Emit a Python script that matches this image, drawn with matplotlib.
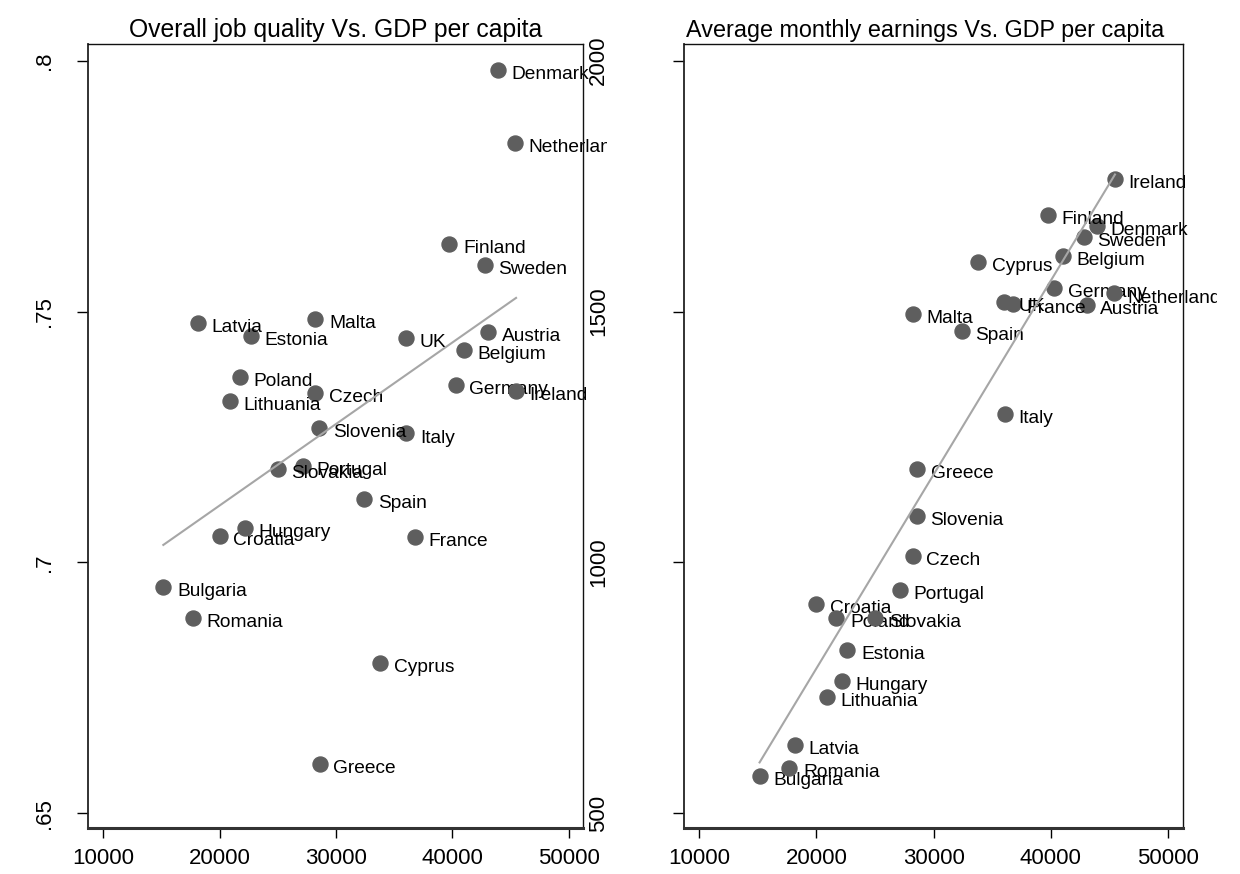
import matplotlib
matplotlib.use("Agg")
import matplotlib.pyplot as plt
import matplotlib.transforms as mtransforms
import numpy as np

plt.rcParams['font.family'] = ['Liberation Sans', 'DejaVu Sans']

countries = ["Austria", "Belgium", "Bulgaria", "Croatia", "Cyprus", "Czech",
             "Denmark", "Estonia", "Finland", "France", "Germany", "Greece",
             "Hungary", "Ireland", "Italy", "Latvia", "Lithuania", "Malta",
             "Netherlands", "Poland", "Portugal", "Romania", "Slovakia",
             "Slovenia", "Spain", "Sweden", "UK"]
gdp = [43050, 41000, 15150, 20000, 33800, 28200,
       43900, 22650, 39730, 36750, 40270, 28600,
       22170, 45470, 36050, 18150, 20900, 28220,
       45400, 21700, 27150, 17700, 25000,
       28550, 32400, 42800, 36040]
job_quality = [.7460, .7424, .6952, .7053, .6799, .7338,
               .7981, .7452, .7634, .7050, .7353, .6598,
               .7068, .7342, .7257, .7477, .7321, .7485,
               .7836, .7370, .7192, .6889, .7187,
               .7268, .7126, .7593, .7448]
earnings = [1513, 1611, 574, 918, 1599, 1013,
            1670, 825, 1692, 1516, 1546, 1186,
            764, 1764, 1295, 635, 732, 1496,
            1536, 889, 945, 591, 889,
            1092, 1461, 1649, 1520]

x_ticks = [10000, 20000, 30000, 40000, 50000]
jq_ticks = [.65, .7, .75, .8]
jq_ticklabels = [".65", ".7", ".75", ".8"]
earn_ticks = [500, 1000, 1500, 2000]
earn_ticklabels = ["500", "1000", "1500", "2000"]

marker_color = '#5e5e5e'
line_color = '#a6a6a6'

fig = plt.figure(figsize=(12.4, 8.74), dpi=100)
ax1 = fig.add_axes([0.0712, 0.0523, 0.3992, 0.8970])
ax2 = fig.add_axes([0.5516, 0.0523, 0.4022, 0.8970])


def draw_panel(ax, yvals, title, title_size, title_x, yticks, yticklabels, ylim, ypad, clip_x):
    x = np.array(gdp, dtype=float)
    y = np.array(yvals, dtype=float)
    label_tr = mtransforms.offset_copy(ax.transData, fig=fig, x=9.8, y=-6.5, units='points')
    # labels are cut at the edge of each sub-graph, not at the plot box
    pos = ax.get_position()
    clip = mtransforms.TransformedBbox(
        mtransforms.Bbox([[pos.x0, pos.y0], [clip_x, pos.y1]]), fig.transFigure)
    for i, name in enumerate(countries):
        ax.plot(x[i], y[i], 'o', ms=10.8, color=marker_color, mec=marker_color,
                zorder=2 + i * 0.01)
        t = ax.text(x[i], y[i], name, transform=label_tr, fontsize=13.8, ha='left',
                    va='baseline', zorder=2 + i * 0.01 + 0.005)
        t.set_clip_box(clip)
        t.set_clip_on(True)
    # linear fit
    b, a = np.polyfit(x, y, 1)
    xs = np.array([x.min(), x.max()])
    ax.plot(xs, a + b * xs, color=line_color, lw=1.5, zorder=5)

    ax.set_xlim(8700, 51250)
    ax.set_ylim(*ylim)
    ax.set_xticks(x_ticks)
    ax.set_xticklabels([str(v) for v in x_ticks])
    ax.set_yticks(yticks)
    ax.set_yticklabels(yticklabels, rotation=90, va='center')
    ax.tick_params(axis='x', direction='out', length=7, width=1, pad=7, labelsize=16)
    ax.tick_params(axis='y', direction='out', length=8, width=1, pad=ypad, labelsize=16)
    ax.set_title(title, fontsize=title_size, pad=5, x=title_x)
    for side in ['top', 'right']:
        ax.spines[side].set_linewidth(1.0)
        ax.spines[side].set_color('#111111')
    ax.spines['left'].set_linewidth(1.3)
    ax.spines['left'].set_color('#222222')
    ax.spines['bottom'].set_linewidth(2.2)
    ax.spines['bottom'].set_color('#333333')


draw_panel(ax1, job_quality, "Overall job quality Vs. GDP per capita", 17.8, 0.5,
           jq_ticks, jq_ticklabels, (.64701, .80327), 16, 607 / 1240)
draw_panel(ax2, earnings, "Average monthly earnings Vs. GDP per capita", 16.8, 0.484,
           earn_ticks, earn_ticklabels, (469.9, 2032.7), 46, 1217 / 1240)

fig.savefig("out.png", dpi=100)
